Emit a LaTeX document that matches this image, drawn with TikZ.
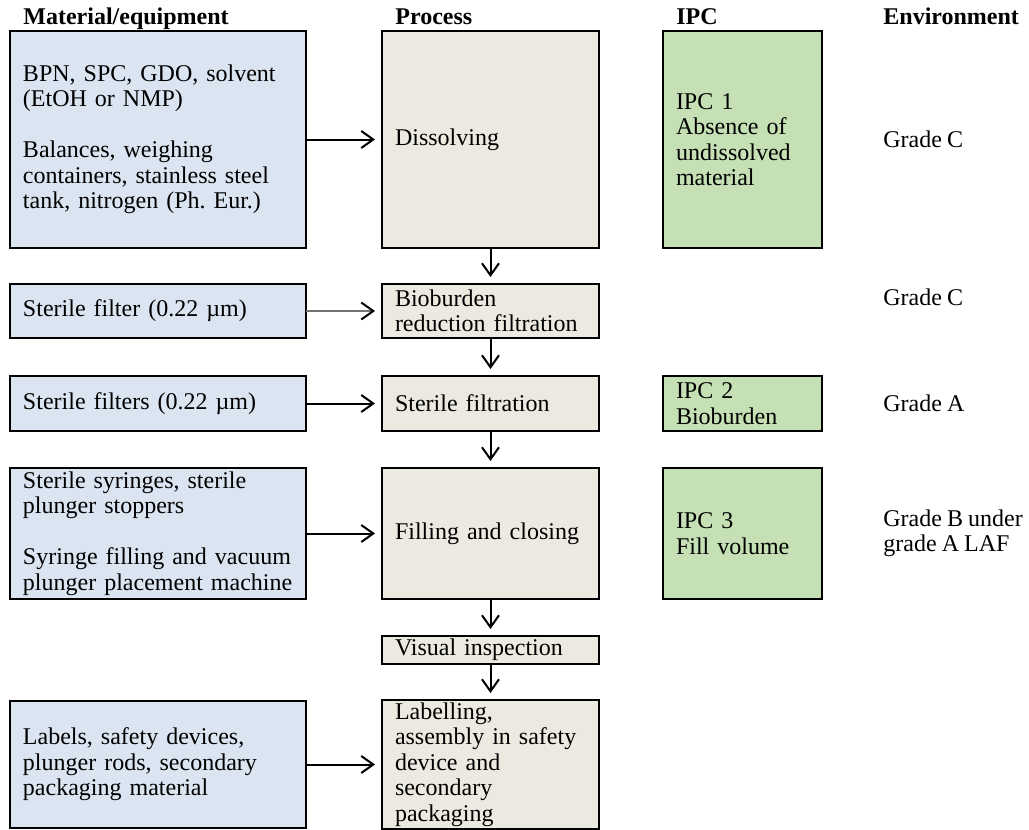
\documentclass[tikz,border=0pt]{standalone}
\usepackage{fontspec}
\setmainfont{Liberation Serif}[WordSpace=0.85]
\usetikzlibrary{arrows.meta, positioning, calc}

\definecolor{matblue}{RGB}{219,229,241}
\definecolor{procbeige}{RGB}{236,234,224}
\definecolor{ipcgreen}{RGB}{197,224,180}

\newcommand{\bodyfont}{\fontsize{12pt}{12.75pt}\selectfont}

\begin{document}
\begin{tikzpicture}[
    box/.style={rectangle, draw, line width=1pt, outer sep=0pt, inner xsep=6.5pt, inner ysep=0pt, align=left, font=\bodyfont},
    matbox/.style={box, fill=matblue, text width=135pt},
    procbox/.style={box, fill=procbeige, text width=95.5pt},
    ipcbox/.style={box, fill=ipcgreen, text width=66.5pt},
    envtext/.style={inner sep=0pt, anchor=west, align=left, font=\bodyfont},
    header/.style={inner sep=0pt, anchor=base west, font=\bodyfont\bfseries},
    arr/.style={->, line width=1pt, shorten >=3.5pt},
    >={Straight Barb[length=6pt, width=8.5pt]},
    node distance=18.5pt and 38pt
]
\useasboundingbox (0,0) rectangle (514.5pt,-415pt);

% Row 1: dissolving
\node[matbox, minimum height=108.5pt, anchor=north west] (mat1) at (5pt,-15.5pt)
  {BPN, SPC, GDO, solvent\\(EtOH or NMP)\\[12.75pt]Balances, weighing\\containers, stainless steel\\tank, nitrogen (Ph.~Eur.)};
\node[procbox, minimum height=108.5pt, right=of mat1] (dissolve) {Dissolving};
\node[ipcbox, minimum height=108.5pt, right=32pt of dissolve] (ipc1) {IPC 1\\Absence of\\undissolved\\material};
\node[envtext, right=30.5pt of ipc1] (env1) {Grade C};

% Row 2: bioburden reduction
\node[matbox, minimum height=27pt, below=18pt of mat1] (mat2) {Sterile filter (0.22 µm)};
\node[procbox, minimum height=27pt, right=of mat2] (bioburden) {Bioburden\\reduction filtration};
\node[envtext] (env2) at ($(bioburden.north -| env1.west)+(0,-6.5pt)$) {Grade C};

% Row 3: sterile filtration
\node[matbox, minimum height=27.5pt, below=19pt of mat2] (mat3) {Sterile filters (0.22 µm)};
\node[procbox, minimum height=27.5pt, right=of mat3] (sterile) {Sterile filtration};
\node[ipcbox, minimum height=27.5pt, right=32pt of sterile] (ipc2) {IPC 2\\Bioburden};
\node[envtext, right=30.5pt of ipc2] (env3) {Grade A};

% Row 4: filling
\node[matbox, minimum height=65.5pt, below=of mat3] (mat4)
  {Sterile syringes, sterile\\plunger stoppers\\[12.75pt]Syringe filling and vacuum\\plunger placement machine};
\node[procbox, minimum height=65.5pt, right=of mat4] (filling) {Filling and closing};
\node[ipcbox, minimum height=65.5pt, right=32pt of filling] (ipc3) {IPC 3\\Fill volume};
\node[envtext, right=30.5pt of ipc3] (env4) {Grade B under\\grade A LAF};

% Row 5 and 6
\node[procbox, minimum height=14pt, below=of filling] (visual) {Visual inspection};
\node[procbox, minimum height=64.5pt, below=18pt of visual] (labelling)
  {Labelling,\\assembly in safety\\device and\\secondary\\packaging};
\node[matbox, minimum height=63.5pt, left=of labelling] (mat5)
  {Labels, safety devices,\\plunger rods, secondary\\packaging material};

% Column headers
\node[header] (hmat) at ($(mat1.north west)+(6.5pt,3pt)$) {Material/equipment};
\node[header] (hproc) at ($(dissolve.north west)+(6.5pt,3pt)$) {Process};
\node[header] (hipc) at ($(ipc1.north west)+(6.5pt,3pt)$) {IPC};
\node[header] (henv) at ($(env1.west |- ipc1.north)+(0,3pt)$) {Environment};

% Inputs
\draw[arr] (mat1) -- (dissolve);
\draw[arr, black!55, -{Straight Barb[length=6pt, width=8.5pt, black]}] (mat2) -- (bioburden);
\draw[arr] (mat3) -- (sterile);
\draw[arr] (mat4) -- (filling);
\draw[arr] (mat5) -- (labelling);

% Process flow
\draw[arr] (dissolve) -- (bioburden);
\draw[arr] (bioburden) -- (sterile);
\draw[arr] (sterile) -- (filling);
\draw[arr] (filling) -- (visual);
\draw[arr] (visual) -- (labelling);

\end{tikzpicture}
\end{document}
